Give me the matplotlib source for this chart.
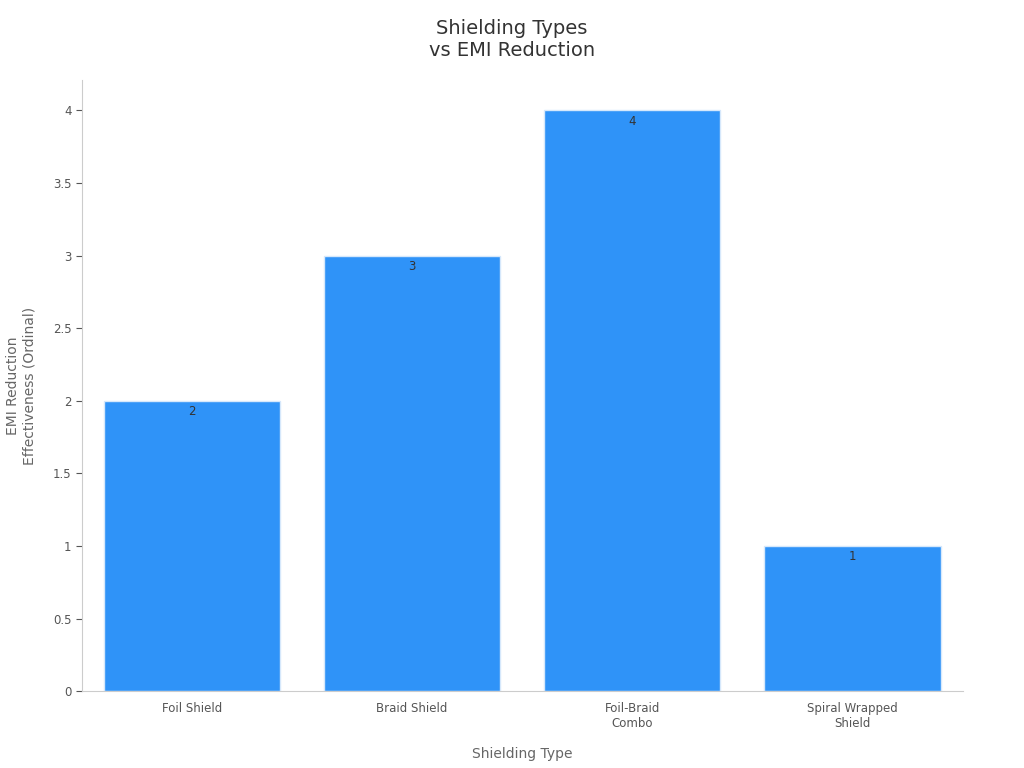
import matplotlib
matplotlib.use("Agg")
import matplotlib.pyplot as plt

# Données
categories = ["Foil Shield", "Braid Shield", "Foil-Braid\nCombo", "Spiral Wrapped\nShield"]
values = [2, 3, 4, 1]
yticks = [0, 0.5, 1, 1.5, 2, 2.5, 3, 3.5, 4]
ytick_labels = ["0", "0.5", "1", "1.5", "2", "2.5", "3", "3.5", "4"]

fig = plt.figure(figsize=(10.24, 7.68), dpi=100)
ax = fig.add_axes([0.080, 0.100, 0.860, 0.796])

x = range(len(categories))
bars = ax.bar(x, values, width=0.8, color="#2f93f8", edgecolor="#d6e8fb", linewidth=1)

for b, v in zip(bars, values):
    ax.text(b.get_x() + b.get_width() / 2, v - 0.03, str(v), ha="center", va="top",
            fontsize=8.5, color="#333333")

ax.set_xlim(-0.5, 3.5)
ax.set_ylim(0, 4.21)
ax.set_xticks(list(x))
ax.set_xticklabels(categories, fontsize=8.5, color="#222222")
ax.set_yticks(yticks)
ax.set_yticklabels(ytick_labels, fontsize=8.5, color="#222222")

for s in ["top", "right"]:
    ax.spines[s].set_visible(False)
for s in ["left", "bottom"]:
    ax.spines[s].set_color("#cccccc")
ax.tick_params(colors="#555555", length=4)
ax.tick_params(axis="x", length=0, pad=8)

ax.set_xlabel("Shielding Type", fontsize=10, color="#666666", labelpad=12)
ax.set_ylabel("EMI Reduction\nEffectiveness (Ordinal)", fontsize=10, color="#666666", labelpad=12)
fig.suptitle("Shielding Types\nvs EMI Reduction", fontsize=14, color="#333333", y=0.975)

fig.savefig("out.png", dpi=100)
